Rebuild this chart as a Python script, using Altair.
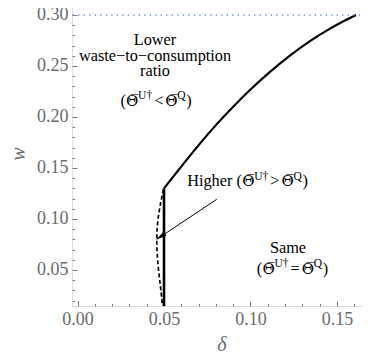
import altair as alt
import pandas as pd

# ---------------- data ----------------
# upper solid boundary curve (delta, w)
curve_d = [0.050, 0.0592, 0.0679, 0.0777, 0.0882, 0.0997, 0.1113, 0.1228, 0.1344, 0.1460, 0.1546, 0.1610]
curve_w = [0.130, 0.1497, 0.1680, 0.1876, 0.2068, 0.2264, 0.2442, 0.2601, 0.2743, 0.2866, 0.2946, 0.300]
# vertical solid boundary
vline_d = [0.050]
vline_w0 = [0.0]
vline_w1 = [0.130]
# dashed boundary
dash_d = [0.0497, 0.0467, 0.0454, 0.0467, 0.0492, 0.0495]
dash_w = [0.129, 0.1056, 0.0794, 0.050, 0.0173, 0.0]
# dotted upper limit
limit_w = [0.30]
# arrow
arrow_d = [0.0805, 0.0458]
arrow_w = [0.1193, 0.0801]
head_d = [0.0481]
head_w = [0.0828]

x_major = [0.0, 0.05, 0.10, 0.15]
x_minor = [0.01, 0.02, 0.03, 0.04, 0.06, 0.07, 0.08, 0.09, 0.11, 0.12, 0.13, 0.14, 0.16]
y_major = [0.05, 0.10, 0.15, 0.20, 0.25, 0.30]
y_minor = [0.02, 0.03, 0.04, 0.06, 0.07, 0.08, 0.09, 0.11, 0.12, 0.13, 0.14, 0.16, 0.17,
           0.18, 0.19, 0.21, 0.22, 0.23, 0.24, 0.26, 0.27, 0.28, 0.29, 0.31]

# plain text labels (centered)
plain_text = ["Lower", "waste\u2212to\u2212consumption", "ratio", "Same"]
plain_x = [0.0448, 0.0448, 0.0448, 0.1217]
plain_y = [0.2706, 0.2549, 0.2397, 0.0662]

# formula labels: prefix, relation, center x, baseline y
form_prefix = ["", "Higher ", ""]
form_rel = ["<", ">", "="]
form_x = [0.0454, 0.0983, 0.1243]
form_y = [0.2108, 0.1319, 0.0461]

# ---------------- layout ----------------
W, H = 299, 305
FONT = "Liberation Serif, Times New Roman, serif"
OFONT = "DejaVu Serif"
FS = 16.3
OFS = 15
SUP = 11.5
xs = alt.Scale(domain=[-0.0032, 0.1697], nice=False, zero=False)
ys = alt.Scale(domain=[0.0147, 0.3137], nice=False, zero=False)
GRAY = "#7a7a7a"
LBL = "#6a6a6a"

def tick_axis(orient, offset, values, size):
    return alt.Axis(orient=orient, offset=offset, values=values, labels=False, domain=False,
                    grid=False, title=None, tickSize=size, tickColor=GRAY, tickWidth=1)

ax_x_main = alt.Axis(orient="bottom", values=x_major, format=".2f", ticks=False, tickSize=0,
                     domain=False, grid=False, title="\u03b4", labelPadding=4, titlePadding=6,
                     labelFont=FONT, labelFontSize=18, labelColor=LBL,
                     titleFont=FONT, titleFontSize=20, titleFontStyle="italic",
                     titleFontWeight="normal", titleColor=LBL)
ax_y_main = alt.Axis(orient="left", values=y_major, format=".2f", ticks=False, tickSize=0,
                     domain=False, grid=False, title="w", labelPadding=4, titlePadding=8,
                     labelFont=FONT, labelFontSize=18, labelColor=LBL,
                     titleFont=FONT, titleFontSize=20, titleFontStyle="italic",
                     titleFontWeight="normal", titleColor=LBL, titleAngle=-90)

def X(field, axis=None):
    return alt.X(field, type="quantitative", scale=xs, axis=axis)

def Y(field, axis=None):
    return alt.Y(field, type="quantitative", scale=ys, axis=axis)

layers = []

curve_df = pd.DataFrame({"d": curve_d, "w": curve_w})
layers.append(alt.Chart(curve_df).mark_line(color="black", strokeWidth=2.2, interpolate="monotone", clip=True)
              .encode(x=X("d", ax_x_main), y=Y("w", ax_y_main)))

vdf = pd.DataFrame({"d": vline_d, "w0": vline_w0, "w1": vline_w1})
layers.append(alt.Chart(vdf).mark_rule(color="black", strokeWidth=2.6, clip=True)
              .encode(x=X("d", tick_axis("top", -H, x_major, 5)),
                      y=Y("w0", tick_axis("right", -W, y_major, 5)), y2="w1"))

ddf = pd.DataFrame({"d": dash_d, "w": dash_w, "i": list(range(len(dash_d)))})
layers.append(alt.Chart(ddf).mark_line(color="black", strokeWidth=1.7, strokeDash=[4, 2.5],
                                        interpolate="basis", clip=True)
              .encode(x=X("d", tick_axis("top", -H, x_minor, 2.5)),
                      y=Y("w", tick_axis("right", -W, y_minor, 2.5)), order="i:O"))

adf = pd.DataFrame({"d": arrow_d, "w": arrow_w, "i": [0, 1]})
layers.append(alt.Chart(adf).mark_line(color="black", strokeWidth=1)
              .encode(x=X("d", tick_axis("bottom", -H, x_major, 5)), y=Y("w"), order="i:O"))

hdf = pd.DataFrame({"d": head_d, "w": head_w})
layers.append(alt.Chart(hdf).mark_point(shape="M0,-1L0.5,1L-0.5,1Z", filled=True, color="black",
                                         size=110, angle=236, opacity=1, strokeWidth=0)
              .encode(x=X("d", tick_axis("bottom", -H, x_minor, 2.5)), y=Y("w")))

ldf = pd.DataFrame({"w": limit_w})
layers.append(alt.Chart(ldf).mark_rule(color="#6f8fcc", strokeWidth=1.4, strokeDash=[1.3, 4.2])
              .encode(y=Y("w")))

pdf = pd.DataFrame({"d": plain_x, "w": plain_y, "t": plain_text})
layers.append(alt.Chart(pdf).mark_text(font=FONT, fontSize=FS, color="black", align="center",
                                        baseline="alphabetic")
              .encode(x=X("d"), y=Y("w"), text="t:N"))

# approximate Times advance widths (per 1000 em)
ADV = {"(": 333, ")": 333, "\u0398": 787, "U": 722, "\u2020": 500, "<": 564, ">": 564, "=": 564,
       "Q": 722, " ": 250, "H": 722, "i": 278, "g": 500, "h": 500, "e": 444, "r": 333}

def adv(s, size):
    return sum(ADV.get(c, 500) for c in s if c != "\u0305") * size / 1000.0

THETA = "\u0398\u0305"
for pre, rel, fx, fy in zip(form_prefix, form_rel, form_x, form_y):
    frags = [(pre + "(", FS, 0, 0, FONT), (THETA, OFS, 0, 0.3, OFONT), ("U\u2020", SUP, -6.5, 0.2, FONT),
             (rel, FS, 0, 2.0, FONT), (THETA, OFS, 0, 2.0, OFONT), ("Q", SUP, -6.5, 0.2, FONT),
             (")", FS, 0, 0.6, FONT)]
    total = 0.0
    pos = []
    for txt, size, dy, gap, fnt in frags:
        total += gap
        pos.append(total)
        total += adv(txt, size)
    start = -total / 2.0
    fdf = pd.DataFrame({"d": [fx], "w": [fy]})
    for (txt, size, dy, gap, fnt), p in zip(frags, pos):
        layers.append(alt.Chart(fdf).mark_text(font=fnt, fontSize=size, color="black", align="left",
                                                baseline="alphabetic", dx=start + p, dy=dy, text=txt)
                      .encode(x=X("d"), y=Y("w")))

chart = (alt.layer(*layers)
         .resolve_axis(x="independent", y="independent")
         .properties(width=W, height=H, autosize=alt.AutoSizeParams(type="none"),
                     padding={"left": 64, "top": -7, "right": -8, "bottom": 46})
         .configure_view(stroke=GRAY, strokeWidth=1)
         .configure(background="white"))

chart.save("out.html", embed_options={"renderer": "svg", "actions": False})
